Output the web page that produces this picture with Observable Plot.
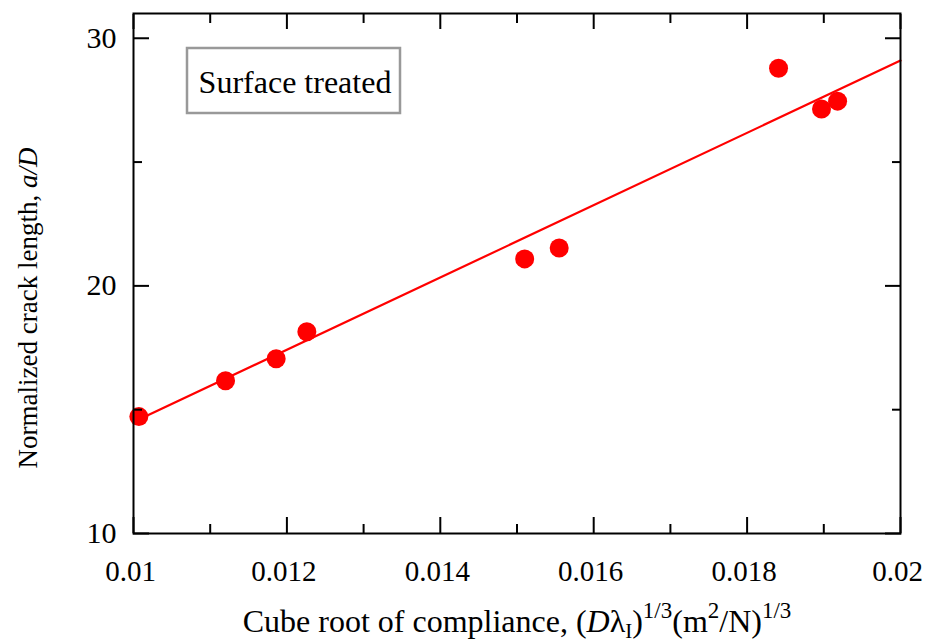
<!DOCTYPE html>
<html>
<head>
<meta charset="utf-8">
<script src="https://cdn.jsdelivr.net/npm/d3@7"></script>
<script src="https://cdn.jsdelivr.net/npm/@observablehq/plot@0.6"></script>
<style>
  html, body { margin: 0; padding: 0; background: white; }
</style>
</head>
<body>
<div id="chart"></div>
<script>
// Data
const complianceRoot = [0.01007, 0.01120, 0.01186, 0.01226, 0.01510, 0.01555, 0.01841, 0.01897, 0.01918];
const crackLength    = [14.72, 16.17, 17.06, 18.15, 21.09, 21.53, 28.79, 27.14, 27.46];
const fitX = [0.01, 0.02];
const fitY = [14.5, 29.1];
const xMajor = [0.01, 0.012, 0.014, 0.016, 0.018, 0.02];
const xMinor = [0.011, 0.013, 0.015, 0.017, 0.019];
const yMajor = [10, 20, 30];
const yMinor = [15, 25];
const boxLabel = "Surface treated";

const points = complianceRoot.map((x, i) => ({x, y: crackLength[i]}));
const fit = fitX.map((x, i) => ({x, y: fitY[i]}));

const FONT = "'Liberation Serif', 'DejaVu Serif', serif";
const fmt = d => String(+d.toFixed(3));

const tickOpts = {text: null, strokeWidth: 2, label: null};

const chart = Plot.plot({
  width: 925,
  height: 644,
  marginLeft: 133,
  marginRight: 25,
  marginTop: 13,
  marginBottom: 111,
  style: {fontFamily: FONT, fontSize: "29px", background: "white", color: "black", overflow: "visible"},
  x: {domain: [0.01, 0.02]},
  y: {domain: [10, 31]},
  marks: [
    Plot.line(fit, {x: "x", y: "y", stroke: "#ff0000", strokeWidth: 2.2}),
    Plot.dot(points, {x: "x", y: "y", r: 9.5, fill: "#ff0000", stroke: "none"}),
    // inward ticks (all four sides)
    Plot.axisX(xMajor, {anchor: "bottom", tickSize: -16, ...tickOpts}),
    Plot.axisX(xMinor, {anchor: "bottom", tickSize: -9, ...tickOpts}),
    Plot.axisX(xMajor, {anchor: "top", tickSize: -15, ...tickOpts}),
    Plot.axisX(xMinor, {anchor: "top", tickSize: -9, ...tickOpts}),
    Plot.axisY(yMajor, {anchor: "left", tickSize: -16, ...tickOpts}),
    Plot.axisY(yMinor, {anchor: "left", tickSize: -9, ...tickOpts}),
    Plot.axisY(yMajor, {anchor: "right", tickSize: -16, ...tickOpts}),
    Plot.axisY(yMinor, {anchor: "right", tickSize: -9, ...tickOpts}),
    // tick labels
    Plot.axisX(xMajor, {anchor: "bottom", tickSize: 0, tickPadding: 27, dx: -3, tickFormat: fmt, label: null, fontSize: 29}),
    Plot.axisY(yMajor, {anchor: "left", tickSize: 0, tickPadding: 17, label: null, fontSize: 30}),
    Plot.frame({stroke: "black", strokeWidth: 2})
  ]
});

document.getElementById("chart").appendChild(chart);

// Rich-text annotations (italic, sub/superscripts) appended to the Plot SVG
const svg = d3.select(chart);

// Boxed label
svg.append("rect")
  .attr("x", 187).attr("y", 48).attr("width", 213).attr("height", 65)
  .attr("fill", "white").attr("stroke", "#999").attr("stroke-width", 2.5);
svg.append("text")
  .attr("x", 295).attr("y", 93)
  .attr("text-anchor", "middle")
  .attr("font-family", FONT).attr("font-size", 32).attr("fill", "black")
  .text(boxLabel);

// X axis title
const xt = svg.append("text")
  .attr("x", 517).attr("y", 632)
  .attr("text-anchor", "middle")
  .attr("font-family", FONT).attr("font-size", 32).attr("fill", "black");
xt.append("tspan").text("Cube root of compliance, (");
xt.append("tspan").attr("font-style", "italic").text("D");
xt.append("tspan").text("λ");
xt.append("tspan").attr("font-size", 21).attr("dy", 6).text("I");
xt.append("tspan").attr("dy", -6).text(")");
xt.append("tspan").attr("font-size", 23).attr("dy", -14).text("1/3");
xt.append("tspan").attr("dy", 14).text("(m");
xt.append("tspan").attr("font-size", 23).attr("dy", -14).text("2");
xt.append("tspan").attr("dy", 14).text("/N)");
xt.append("tspan").attr("font-size", 23).attr("dy", -14).text("1/3");

// Y axis title
const yt = svg.append("text")
  .attr("transform", "translate(37,308) rotate(-90)")
  .attr("text-anchor", "middle")
  .attr("font-family", FONT).attr("font-size", 27).attr("fill", "black");
yt.append("tspan").text("Normalized crack length, ");
yt.append("tspan").attr("font-style", "italic").text("a/D");
</script>
</body>
</html>
